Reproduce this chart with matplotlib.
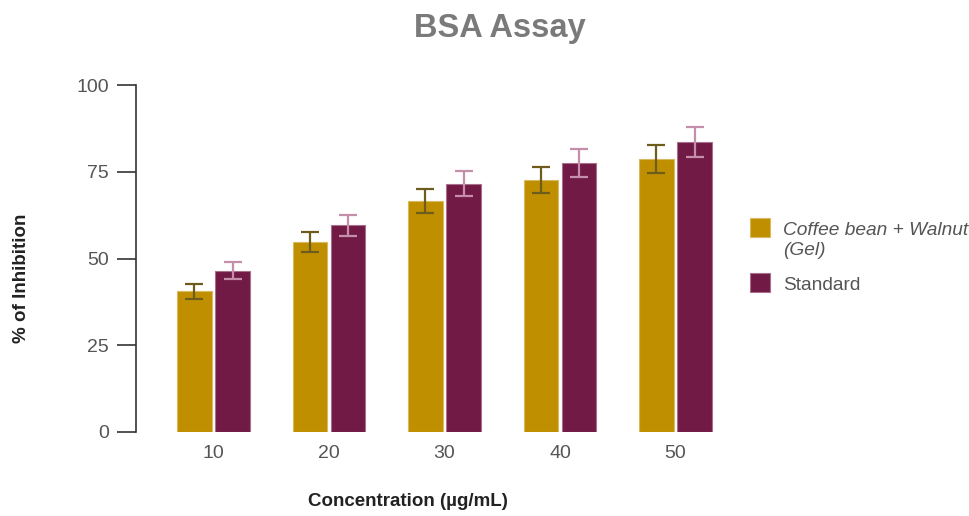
import matplotlib
matplotlib.use("Agg")
import matplotlib.pyplot as plt
import numpy as np
from matplotlib.patches import Rectangle

concentrations = ["10", "20", "30", "40", "50"]
gel_mean = [40.5, 54.7, 66.6, 72.7, 78.6]
gel_err = [2.2, 2.8, 3.4, 3.7, 4.1]
std_mean = [46.5, 59.6, 71.6, 77.6, 83.6]
std_err = [2.4, 3.0, 3.6, 4.0, 4.3]
series_names = ["Coffee bean + Walnut\n(Gel)", "Standard"]

GOLD = "#BF8F00"
PLUM = "#701A45"
GREY = "#555555"

plt.rcParams["font.family"] = ["Liberation Sans", "DejaVu Sans"]

fig = plt.figure(figsize=(9.7, 5.16), dpi=100)
ax = fig.add_axes([136 / 970, 84 / 516, 584 / 970, 347 / 516])

x = np.arange(len(concentrations))
w = 0.30
off = 0.165
ax.bar(x - off, gel_mean, w, color=GOLD, edgecolor="#d9b960", linewidth=0.8)
ax.bar(x + off, std_mean, w, color=PLUM, edgecolor="#a9708c", linewidth=0.8)
ax.errorbar(x - off, gel_mean, yerr=gel_err, fmt="none", ecolor="#6e5c1c",
            elinewidth=1.6, capsize=6.5, capthick=1.6)
ax.errorbar(x + off, std_mean, yerr=std_err, fmt="none", ecolor="#c58fab",
            elinewidth=1.6, capsize=6.5, capthick=1.6)

ax.set_xlim(-0.671, 4.385)
ax.set_ylim(0, 100)
ax.set_yticks([0, 25, 50, 75, 100])
ax.set_xticks(x)
ax.set_xticklabels(concentrations)
ax.tick_params(axis="y", length=13.5, width=1.2, color="#333333", pad=6,
               labelsize=14, labelcolor=GREY)
ax.tick_params(axis="x", length=0, pad=9, labelsize=14, labelcolor=GREY)
for side in ["top", "right", "bottom"]:
    ax.spines[side].set_visible(False)
ax.spines["left"].set_linewidth(1.2)
ax.spines["left"].set_color("#333333")

fig.text(500 / 970, 1 - 29 / 516, "BSA Assay", ha="center", va="center",
         fontsize=23.5, fontweight="bold", color="#7a7a7a")
fig.text(408 / 970, 1 - 502 / 516, "Concentration (µg/mL)", ha="center",
         va="center", fontsize=13.5, fontweight="bold", color="#222222")
fig.text(22 / 970, 1 - 278 / 516, "% of Inhibition", ha="center", va="center",
         rotation=90, fontsize=13.5, fontweight="bold", color="#222222")

# legend drawn by hand so the swatch lines up with the first text line
entries = [(GOLD, "#d9b960", series_names[0], "italic", 218),
           (PLUM, "#a9708c", series_names[1], "normal", 273)]
for face, edge, label, style, top in entries:
    fig.add_artist(Rectangle((750 / 970, 1 - (top + 19) / 516), 20 / 970, 19 / 516,
                             transform=fig.transFigure, facecolor=face,
                             edgecolor=edge, linewidth=0.8))
    fig.text(783 / 970, 1 - (top + 4) / 516, label, ha="left", va="top",
             fontsize=13.8, fontstyle=style, color=GREY, linespacing=1.25)

fig.savefig("out.png", dpi=100)
